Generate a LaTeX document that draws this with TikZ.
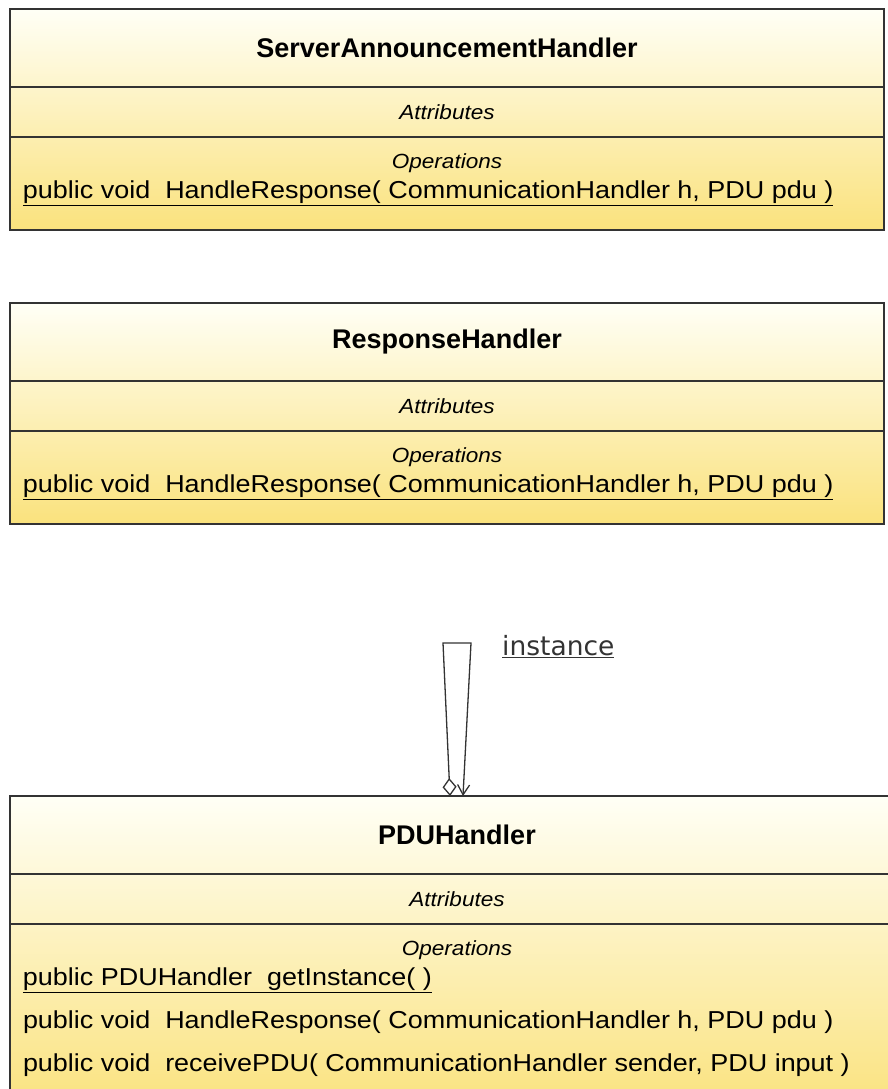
\documentclass[tikz,border=0pt]{standalone}
\usepackage{fontspec}
\setmainfont{Liberation Sans}
\newfontfamily\opsfamily{Liberation Sans}[FakeStretch=1.1]
\newfontfamily\rolefamily{DejaVu Sans}
\usetikzlibrary{shapes.multipart,positioning,arrows.meta}

\definecolor{linegray}{RGB}{51,51,51}
\definecolor{classtop}{RGB}{255,255,246}
\definecolor{classbottom}{RGB}{250,226,125}

% the three compartments of a class box
\newcommand{\classname}[2]{\parbox[c][76.5pt]{#1}{\centering\fontsize{27}{32}\selectfont\bfseries #2}}
\newcommand{\classattr}[1]{\parbox[c][48.5pt]{#1}{\centering\opsfamily\fontsize{20.5}{24}\selectfont\itshape Attributes}}
\newcommand{\classops}[3]{\parbox[t][#2][t]{#1}{\centering\opsfamily\fontsize{20.5}{24}\selectfont\itshape\rule{0pt}{31pt}Operations\par
  \raggedright\leftskip=13pt\fontsize{24.5}{30}\selectfont\upshape #3}}
\newcommand{\opline}[1]{#1\par\baselineskip=43pt}

\tikzset{
  umlclass/.style={rectangle split, rectangle split parts=3, draw=linegray, line width=1.5pt,
    inner xsep=0pt, inner ysep=0pt, outer sep=0pt, top color=classtop, bottom color=classbottom},
  aggr/.style={draw=linegray, line width=1.3pt, line join=miter,
    {Diamond[open,length=18pt,width=14pt]}-{Straight Barb[length=10pt,width=12pt]}},
  rolelabel/.style={font=\rolefamily\fontsize{26.5}{30}\selectfont, text=linegray, inner sep=0pt}
}

\begin{document}
\begin{tikzpicture}[x=1pt,y=1pt]
  \useasboundingbox (0,0) rectangle (887,-1089);

  \node[umlclass, anchor=north west] (sah) at (10,-9) {\classname{874pt}{ServerAnnouncementHandler}
    \nodepart{two}\classattr{874pt}
    \nodepart{three}\classops{874pt}{91.5pt}{\opline{\underline{public void\ \ HandleResponse( CommunicationHandler h, PDU pdu )}}}};

  \node[umlclass, below=73pt of sah] (resp) {\classname{874pt}{ResponseHandler}
    \nodepart{two}\classattr{874pt}
    \nodepart{three}\classops{874pt}{91.5pt}{\opline{\underline{public void\ \ HandleResponse( CommunicationHandler h, PDU pdu )}}}};

  \node[umlclass, below=272pt of resp.south west, anchor=north west] (pdu) {\classname{894pt}{PDUHandler}
    \nodepart{two}\classattr{894pt}
    \nodepart{three}\classops{894pt}{186pt}{\opline{\underline{public PDUHandler\ \ getInstance( )}}
      \opline{public void\ \ HandleResponse( CommunicationHandler h, PDU pdu )}
      \opline{public void\ \ receivePDU( CommunicationHandler sender, PDU input )}}};

  % self association
  \draw[aggr] ([xshift=-7pt]pdu.north) -- ([shift={(-14pt,153pt)}]pdu.north)
    -- ([shift={(14pt,153pt)}]pdu.north) -- ([xshift=6pt]pdu.north);
  \node[rolelabel, anchor=base west] (inst) at ([shift={(45pt,141pt)}]pdu.north) {\underline{instance}};
\end{tikzpicture}
\end{document}
